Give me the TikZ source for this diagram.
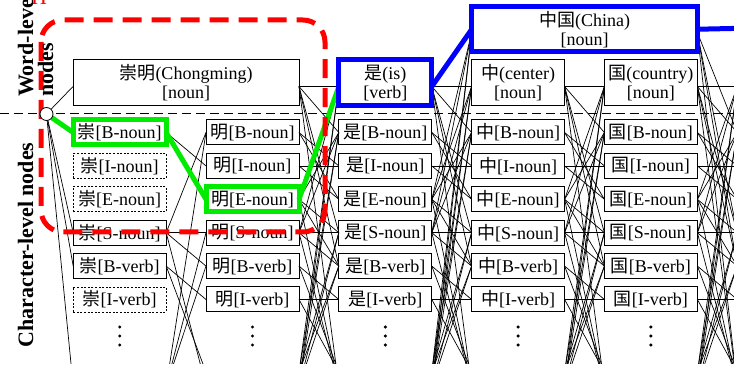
\documentclass[tikz,border=0pt]{standalone}
\usepackage{fontspec}
\setmainfont{Liberation Serif}
\newfontfamily\cjkfont{Noto Sans CJK SC}
\newcommand\zh[1]{{\cjkfont #1}}
\definecolor{hlred}{RGB}{255,0,0}
\definecolor{hlgreen}{RGB}{0,235,0}
\definecolor{hlblue}{RGB}{0,0,255}
\begin{document}
\begin{tikzpicture}[x=1pt, y=-1pt,
  every node/.style={inner sep=0pt, outer sep=0pt, font=\fontsize{18}{19}\selectfont},
  charbox/.style={draw, line width=1pt, minimum width=93pt, minimum height=25pt, fill=white},
  badbox/.style={charbox, line width=0.8pt, dash pattern=on 2pt off 1.6pt},
  ghost/.style={minimum width=93pt, minimum height=25pt},
  wordbox/.style={draw, line width=1pt, minimum height=46pt, align=center, fill=white},
  edge/.style={line width=0.7pt},
  hlgreenline/.style={draw=hlgreen, line width=5pt},
  hlblueline/.style={draw=hlblue, line width=5pt},
  sidelabel/.style={rotate=90, font=\fontsize{22}{22}\selectfont\bfseries},
]
\useasboundingbox (0,0) rectangle (734,371);
\clip (0,0) rectangle (734,364);

% start node of the lattice (drawn later, above the red frame)
\path node[circle, minimum size=13pt] (start) at (46.5,114) {};

% character-level nodes
\foreach \cc/\ch in {1/崇,2/明,3/是,4/中,5/国}{
  \pgfmathsetmacro{\xx}{119.7+132.8*(\cc-1)}
  \foreach \rr/\tg in {0/B-noun,1/I-noun,2/E-noun,3/S-noun,4/B-verb,5/I-verb}{
    \pgfmathsetmacro{\yy}{132.5+33.4*\rr}
    \pgfmathtruncatemacro{\bad}{(\cc==1)*((\rr==1)+(\rr==2)+(\rr==5))}
    \ifnum\bad=1
      \node[badbox] (c\cc r\rr) at (\xx,\yy) {\zh{\ch}[\tg]};
    \else
      \node[charbox] (c\cc r\rr) at (\xx,\yy) {\zh{\ch}[\tg]};
    \fi
  }
  % E-verb and S-verb rows lie below the visible part
  \node[ghost] (c\cc r6) at (\xx,372) {};
  \node[ghost] (c\cc r7) at (\xx,386) {};
  % vertical ellipsis
  \foreach \dy in {327,336,345} \fill (\xx,\dy) circle[radius=1.7pt];
}
% next column, outside the visible part
\foreach \rr in {0,...,5}{
  \pgfmathsetmacro{\yy}{132.5+33.4*\rr}
  \node[ghost] (c6r\rr) at (783.7,\yy) {};
}
\node[ghost] (c6r6) at (783.7,372) {};
\node[ghost] (c6r7) at (783.7,386) {};

% word-level nodes
\node[wordbox, minimum width=226pt] (w12) at (186,83) {\zh{崇明}(Chongming)\\{}[noun]};
\node[wordbox, minimum width=93pt] (w3) at (385.3,83) {\zh{是}(is)\\{}[verb]};
\node[wordbox, minimum width=93pt] (w4) at (518.1,83) {\zh{中}(center)\\{}[noun]};
\node[wordbox, minimum width=93pt] (w5) at (650.9,83) {\zh{国}(country)\\{}[noun]};
\node[wordbox, minimum width=225.5pt, minimum height=45.5pt] (w45) at (584.5,29.25) {\zh{中国}(China)\\{}[noun]};
\node[ghost] (w6) at (783.7,83) {};
\coordinate (w7) at (800,27);

% edges from the start node
\foreach \sb in {3,4,7} \draw[edge] (start) -- (c1r\sb.west);
\draw[edge] (start) -- ([yshift=-3.5pt]w12.west);

% character lattice: B/I -> I/E of same type, E/S -> B/S of any type
\foreach \cc in {1,...,5}{
  \pgfmathtruncatemacro{\nn}{\cc+1}
  \foreach \sa in {0,...,7}{
    \pgfmathtruncatemacro{\pa}{mod(\sa,4)}
    \pgfmathtruncatemacro{\ta}{floor(\sa/4)}
    \foreach \sb in {0,...,7}{
      \pgfmathtruncatemacro{\pb}{mod(\sb,4)}
      \pgfmathtruncatemacro{\tb}{floor(\sb/4)}
      \pgfmathtruncatemacro{\ok}{((\pa<2)*(\pb>0)*(\pb<3)*(\ta==\tb)+(\pa>1)*((\pb==0)+(\pb==3)))*(1-(\cc==1)*((\pa==1)+(\pa==2)))}
      \ifnum\ok>0 \draw[edge] (c\cc r\sa.east) -- (c\nn r\sb.west);\fi
    }
  }
}

% word-level edges
\foreach \sb in {0,3,4,7} \draw[edge] ([yshift=-3.5pt]w12.east) -- (c3r\sb.west);
\draw[edge] ([yshift=-3.5pt]w12.east) -- ([yshift=-3.5pt]w3.west);
\foreach \sa in {2,3,6,7} \draw[edge] (c2r\sa.east) -- ([yshift=-3.5pt]w3.west);
\foreach \sb in {0,3,4,7} \draw[edge] ([yshift=-3.5pt]w3.east) -- (c4r\sb.west);
\draw[edge] ([yshift=-3.5pt]w3.east) -- ([yshift=-3.5pt]w4.west);
\foreach \sa in {2,3,6,7}{
  \draw[edge] (c3r\sa.east) -- ([yshift=-3.5pt]w4.west);
  \draw[edge] (c3r\sa.east) -- ([yshift=-3pt]w45.west);
}
\foreach \sb in {0,3,4,7} \draw[edge] ([yshift=-3.5pt]w4.east) -- (c5r\sb.west);
\draw[edge] ([yshift=-3.5pt]w4.east) -- ([yshift=-3.5pt]w5.west);
\foreach \sa in {2,3,6,7} \draw[edge] (c4r\sa.east) -- ([yshift=-3.5pt]w5.west);
\foreach \sb in {0,3,4,7}{
  \draw[edge] ([yshift=-3.5pt]w5.east) -- (c6r\sb.west);
  \draw[edge] ([yshift=-3pt]w45.east) -- (c6r\sb.west);
}
\draw[edge] ([yshift=-3.5pt]w5.east) -- ([yshift=-3.5pt]w6.west);
\foreach \sa in {2,3,6,7} \draw[edge] (c5r\sa.east) -- ([yshift=-3.5pt]w6.west);

% boundary between word level and character level
\draw[line width=0.8pt, dash pattern=on 9pt off 5pt] (0,113) -- (734,113);

% highlighted character path
\draw[hlgreenline] (c1r0.south west) rectangle (c1r0.north east);
\draw[hlgreenline] (c2r2.south west) rectangle (c2r2.north east);
\draw[hlgreenline] (start) -- (c1r0.west);
\draw[hlgreenline] (c1r0.east) -- (c2r2.west);
\draw[hlgreenline] (c2r2.east) -- ([yshift=-3.5pt]w3.west);

% highlighted word path
\draw[hlblueline] (w3.south west) rectangle (w3.north east);
\draw[hlblueline] (w45.south west) rectangle (w45.north east);
\draw[hlblueline] ([yshift=-3.5pt]w3.east) -- (w45.west);
\draw[hlblueline] (w45.east) -- (w7);

% red frame
\draw[hlred, line width=5pt, dash pattern=on 19pt off 10pt, rounded corners=22pt] (41,20) rectangle (325,232);
\node[anchor=base west, text=hlred, font=\fontsize{22}{22}\selectfont] (redtag) at (31,4.5) {H};

% start node
\draw[line width=0.8pt, fill=white] (start) circle[radius=6.5pt];

% side labels
\node[sidelabel, anchor=base west] (lbw1) at (33,97) {Word-level};
\node[sidelabel, anchor=base west] (lbw2) at (53,97) {nodes};
\node[sidelabel, anchor=base] (lbc) at (33,245) {Character-level nodes};
\end{tikzpicture}
\end{document}
